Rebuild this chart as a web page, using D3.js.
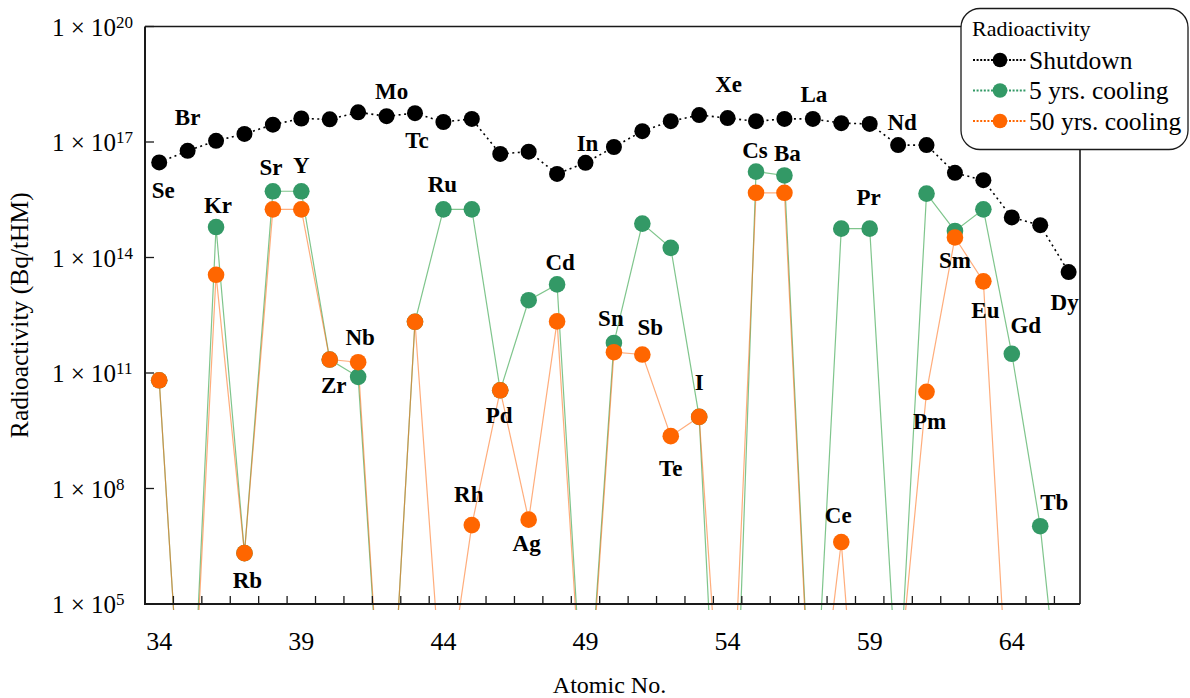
<!DOCTYPE html>
<html>
<head>
<meta charset="utf-8">
<script src="https://cdn.jsdelivr.net/npm/d3@7"></script>
<style>
  body { margin: 0; background: #fff; }
  svg text { font-family: "Liberation Serif", "Times New Roman", serif; }
</style>
</head>
<body>
<svg id="chart" width="1190" height="698"></svg>
<script>
// fission product radioactivity by element (Bq/tHM)
var atomicNo = [34, 35, 36, 37, 38, 39, 40, 41, 42, 43, 44, 45, 46, 47, 48, 49, 50,
                51, 52, 53, 54, 55, 56, 57, 58, 59, 60, 61, 62, 63, 64, 65, 66];
var elements = ["Se", "Br", "Kr", "Rb", "Sr", "Y", "Zr", "Nb", "Mo", "Tc", "Ru", "Rh", "Pd",
                "Ag", "Cd", "In", "Sn", "Sb", "Te", "I", "Xe", "Cs", "Ba", "La", "Ce", "Pr",
                "Nd", "Pm", "Sm", "Eu", "Gd", "Tb", "Dy"];

var shutdown = [2.95e16, 5.89e16, 1.07e17, 1.62e17, 2.82e17, 4.07e17, 3.89e17, 5.89e17, 4.68e17,
                5.62e17, 3.31e17, 3.98e17, 4.90e16, 5.62e16, 1.48e16, 2.88e16, 7.41e16, 1.91e17,
                3.47e17, 5.01e17, 4.17e17, 3.47e17, 3.98e17, 3.98e17, 3.09e17, 2.95e17, 8.32e16,
                8.32e16, 1.58e16, 1.02e16, 1.10e15, 6.92e14, 4.17e13];
var cooling5 = [6.46e10, 0.1, 6.17e14, 2.09e6, 5.25e15, 5.25e15, 2.24e11, 7.94e10, 0.3,
                2.14e12, 1.78e15, 1.78e15, 3.55e10, 7.76e12, 2.00e13, 10, 6.03e11, 7.59e14,
                1.78e14, 7.24e9, 1e-5, 1.70e16, 1.35e16, 4, 5.62e14, 5.62e14, 160,
                4.57e15, 4.90e14, 1.78e15, 3.16e11, 1.05e7, 1];
var cooling50 = [6.46e10, 0.1, 3.55e13, 2.09e6, 1.78e15, 1.78e15, 2.24e11, 1.91e11, 0.3,
                 2.14e12, 100, 1.12e7, 3.55e10, 1.55e7, 2.19e12, 6, 3.47e11, 3.02e11,
                 2.29e9, 7.24e9, 0.1, 4.79e15, 4.79e15, 3, 4.07e6, 1e-3, 630,
                 3.24e10, 3.31e14, 2.40e13, 3, 1, 1];

var yTicks = [1e5, 1e8, 1e11, 1e14, 1e17, 1e20];
var xTickLabels = [34, 39, 44, 49, 54, 59, 64];

// which series each element name sits next to
var labelSeries = ["shutdown", "shutdown", "cooling5", "cooling50", "cooling5", "cooling5",
                   "cooling50", "cooling50", "shutdown", "shutdown", "cooling5", "cooling50",
                   "cooling50", "cooling50", "cooling5", "shutdown", "cooling5", "cooling50",
                   "cooling50", "cooling50", "shutdown", "cooling5", "cooling5", "shutdown",
                   "cooling50", "cooling5", "shutdown", "cooling50", "cooling50", "cooling50",
                   "cooling5", "cooling5", "shutdown"];
// nudge of the label centre from its point, px
var labelNudge = [[4, 28], [0, -33], [2, -22], [3, 27], [-2, -24], [0, -26], [4, 26], [2, -25],
                  [5, -25], [2, 27], [-1, -25], [-3, -31], [-1, 25], [-2, 24], [3, -22], [2, -19],
                  [-3, -24], [8, -27], [0, 32], [0, -34], [1, -34], [-1, -21], [3, -22], [1, -24],
                  [-3, -27], [-1, -31], [4, -23], [3, 30], [0, 23], [2, 29], [14, -28], [14, -24],
                  [-4, 30]];

var series = {
  shutdown: { values: shutdown, name: "Shutdown", color: "#000000" },
  cooling5: { values: cooling5, name: "5 yrs. cooling", color: "#339966" },
  cooling50: { values: cooling50, name: "50 yrs. cooling", color: "#ff6600" }
};

var svg = d3.select("#chart");
var plotL = 145, plotR = 1080, plotT = 26.5, plotB = 604;

var x = d3.scaleLinear().domain([33.5, 66.4]).range([plotL, plotR]);
var y = d3.scaleLog().domain([1e5, 1e20]).range([plotB, plotT]);

svg.append("clipPath").attr("id", "plotclip")
  .append("rect")
    .attr("x", plotL).attr("y", plotT)
    .attr("width", plotR - plotL).attr("height", plotB - plotT + 6);

var plot = svg.append("g").attr("clip-path", "url(#plotclip)");

function lineFor(vals) {
  return d3.line()
    .x(function(d, i) { return x(atomicNo[i]); })
    .y(function(d) { return y(d); })(vals);
}

// thin coloured lines first, they sit under everything
plot.append("path").attr("d", lineFor(cooling5))
  .attr("fill", "none").attr("stroke", "#3aa64f").attr("stroke-opacity", 0.65).attr("stroke-width", 1.2);
plot.append("path").attr("d", lineFor(cooling50))
  .attr("fill", "none").attr("stroke", "#ff6a10").attr("stroke-opacity", 0.55).attr("stroke-width", 1.2);
plot.append("path").attr("d", lineFor(shutdown))
  .attr("fill", "none").attr("stroke", "#000").attr("stroke-width", 1.6)
  .attr("stroke-dasharray", "2,3.5");

["cooling5", "cooling50", "shutdown"].forEach(function(key) {
  var s = series[key];
  plot.selectAll(null)
    .data(s.values)
    .enter()
    .append("circle")
      .attr("cx", function(d, i) { return x(atomicNo[i]); })
      .attr("cy", function(d) { return y(d); })
      .attr("r", key == "shutdown" ? 8 : 8.3)
      .style("fill", s.color);
});

// element names
svg.append("g").selectAll("text")
  .data(elements)
  .enter()
  .append("text")
    .attr("x", function(d, i) { return x(atomicNo[i]) + labelNudge[i][0]; })
    .attr("y", function(d, i) { return y(series[labelSeries[i]].values[i]) + labelNudge[i][1]; })
    .attr("text-anchor", "middle")
    .attr("dominant-baseline", "central")
    .style("font-size", "23px")
    .style("font-weight", "bold")
    .text(function(d) { return d; });

// frame
var frame = svg.append("g").attr("stroke", "#1a1a1a").attr("fill", "none");
frame.append("line").attr("x1", plotL).attr("x2", plotR).attr("y1", plotT).attr("y2", plotT).attr("stroke-width", 1.6);
frame.append("line").attr("x1", plotR).attr("x2", plotR).attr("y1", plotT).attr("y2", plotB).attr("stroke-width", 1.6);
frame.append("line").attr("x1", plotL).attr("x2", plotL).attr("y1", plotT).attr("y2", plotB + 1).attr("stroke-width", 2);
frame.append("line").attr("x1", plotL - 1).attr("x2", plotR).attr("y1", plotB).attr("y2", plotB).attr("stroke-width", 2);

// x ticks sit between the integer positions
var xMinor = d3.range(34.5, 66, 1);
frame.selectAll(null).data(xMinor).enter().append("line")
  .attr("x1", function(d) { return x(d); }).attr("x2", function(d) { return x(d); })
  .attr("y1", plotB).attr("y2", plotB - 8).attr("stroke-width", 1.3);

svg.append("g").selectAll("text")
  .data(xTickLabels)
  .enter()
  .append("text")
    .attr("x", function(d) { return x(d); })
    .attr("y", 650)
    .attr("text-anchor", "middle")
    .style("font-size", "26px")
    .text(function(d) { return d; });

// y ticks
frame.selectAll(null).data(yTicks).enter().append("line")
  .attr("x1", plotL).attr("x2", plotL + 9)
  .attr("y1", function(d) { return y(d); }).attr("y2", function(d) { return y(d); })
  .attr("stroke-width", 1.3);

// y labels are left aligned in the reference
var yLab = svg.append("g").selectAll("text")
  .data(yTicks)
  .enter()
  .append("text")
    .attr("x", 52)
    .attr("y", function(d) { return y(d) + 9; })
    .style("font-size", "25px");
yLab.append("tspan").text("1 \u00d7 10");
yLab.append("tspan")
  .attr("dy", -8)
  .style("font-size", "17px")
  .text(function(d) { return Math.round(Math.log10(d)); });

// axis titles
svg.append("text")
  .attr("x", (plotL + plotR) / 2 - 3)
  .attr("y", 693)
  .attr("text-anchor", "middle")
  .style("font-size", "24px")
  .text("Atomic No.");

svg.append("text")
  .attr("transform", "translate(28," + ((plotT + plotB) / 2) + ") rotate(-90)")
  .attr("text-anchor", "middle")
  .style("font-size", "25.5px")
  .text("Radioactivity (Bq/tHM)");

// legend
var legend = svg.append("g");
legend.append("rect")
  .attr("x", 961).attr("y", 8.5)
  .attr("width", 227).attr("height", 141)
  .attr("rx", 19).attr("ry", 19)
  .attr("fill", "#fff").attr("stroke", "#1a1a1a").attr("stroke-width", 1.3);
legend.append("text")
  .attr("x", 972).attr("y", 36)
  .style("font-size", "22px")
  .text("Radioactivity");

["shutdown", "cooling5", "cooling50"].forEach(function(key, i) {
  var s = series[key];
  var cy = 60 + i * 30.5;
  legend.append("line")
    .attr("x1", 973).attr("x2", 1026).attr("y1", cy).attr("y2", cy)
    .attr("stroke", s.color).attr("stroke-width", 2.2).attr("stroke-dasharray", "2,1.6");
  legend.append("circle")
    .attr("cx", 1000).attr("cy", cy).attr("r", 7.3)
    .style("fill", s.color);
  legend.append("text")
    .attr("x", 1029).attr("y", cy + 8.5)
    .style("font-size", "25.5px")
    .text(s.name);
});
</script>
</body>
</html>
